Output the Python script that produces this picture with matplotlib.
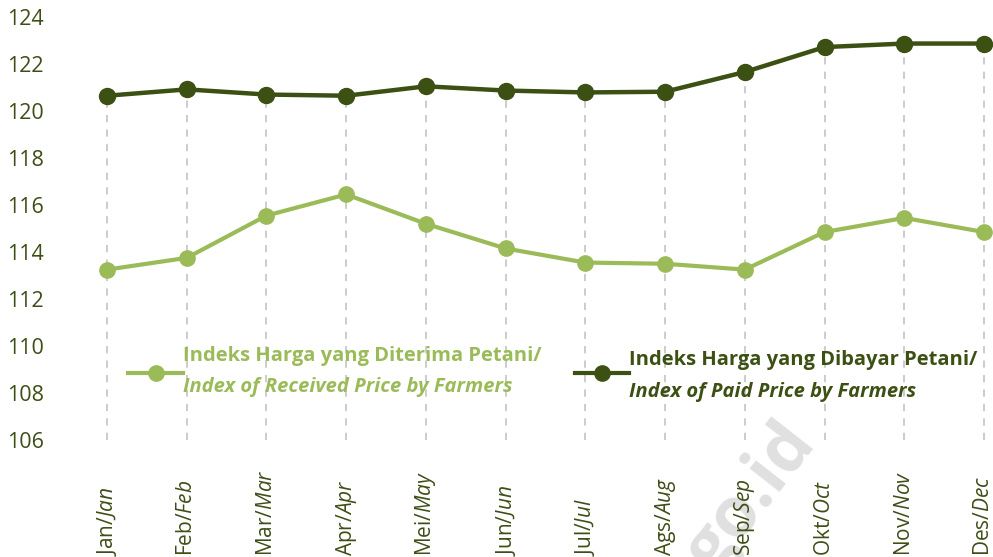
import numpy as np
import matplotlib
matplotlib.use("Agg")
import matplotlib.pyplot as plt
from matplotlib.lines import Line2D
from matplotlib.transforms import blended_transform_factory

plt.rcParams['font.family'] = ['Open Sans', 'DejaVu Sans']
plt.rcParams['mathtext.fontset'] = 'custom'
plt.rcParams['mathtext.rm'] = 'Open Sans'
plt.rcParams['mathtext.it'] = 'Open Sans:italic'

months_id = ['Jan', 'Feb', 'Mar', 'Apr', 'Mei', 'Jun', 'Jul', 'Ags', 'Sep', 'Okt', 'Nov', 'Des']
months_en = ['Jan', 'Feb', 'Mar', 'Apr', 'May', 'Jun', 'Jul', 'Aug', 'Sep', 'Oct', 'Nov', 'Dec']
received = [113.25, 113.75, 115.55, 116.45, 115.2, 114.15, 113.55, 113.5, 113.25, 114.85, 115.45, 114.85]
paid = [120.65, 120.92, 120.7, 120.65, 121.05, 120.87, 120.79, 120.82, 121.66, 122.72, 122.87, 122.87]
yticks = [106, 108, 110, 112, 114, 116, 118, 120, 122, 124]

light = '#9bbb59'
dark = '#3c5014'
txt = '#3d4e17'

W, H = 993, 557
fig = plt.figure(figsize=(W / 100, H / 100), dpi=100)
ax = fig.add_axes([60 / W, 1 - 440 / H, 1 - 60 / W, (440 - 17) / H])

x = np.arange(1, 13)
ax.set_xlim(0.41, 12.113)
ax.set_ylim(106, 124)

# watermark, drawn behind everything
fig.text(752 / W, 1 - 498 / H, 'go.id', rotation=52, fontsize=50, fontweight='bold',
         color='#e0e0e0', ha='center', va='center', zorder=-1)

# drop lines from the top series to the axis
ax.vlines(x, 106, paid, colors='#c8c8c8', linestyles=(0, (4, 4)), linewidth=1.3, zorder=1)

ax.plot(x, received, color=light, lw=3, marker='o', ms=11, clip_on=False, zorder=3)
ax.plot(x, paid, color=dark, lw=3.2, marker='o', ms=11.5, clip_on=False, zorder=3)

for s in ax.spines.values():
    s.set_visible(False)
ax.patch.set_visible(False)
ax.set_xticks([])
ax.set_yticks(yticks)
ax.tick_params(axis='y', length=0, pad=11.5, labelsize=15.5, labelcolor=txt)

# month labels, anchored at the bottom edge of the figure
tr = blended_transform_factory(ax.transData, fig.transFigure)
for xi, a, b in zip(x, months_id, months_en):
    ax.text(xi, 0.002, a + '/$\\mathit{' + b + '}$', transform=tr, rotation=90,
            ha='center', va='bottom', fontsize=15, color=txt, clip_on=False)

# legend
def legend_entry(x0, x1, yc, color, l1, l2, ty1, ty2):
    fig.add_artist(Line2D([x0 / W, x1 / W], [1 - yc / H, 1 - yc / H], color=color, lw=3))
    fig.add_artist(Line2D([(x0 + x1) / 2 / W], [1 - yc / H], color=color, marker='o', ms=11))
    fig.text(x1 / W, 1 - ty1 / H, l1, color=color, fontsize=14.5, fontweight='bold', va='center')
    fig.text(x1 / W, 1 - ty2 / H, l2, color=color, fontsize=14.5, fontweight='bold',
             style='italic', va='center')

legend_entry(128, 183, 373, light, 'Indeks Harga yang Diterima Petani/',
             'Index of Received Price by Farmers', 356, 387)
legend_entry(575, 629, 373, dark, 'Indeks Harga yang Dibayar Petani/',
             'Index of Paid Price by Farmers', 360, 392)

fig.savefig('out.png', dpi=100)
